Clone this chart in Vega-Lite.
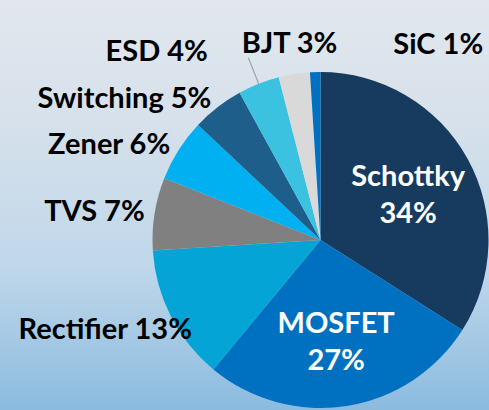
{
  "$schema": "https://vega.github.io/schema/vega-lite/v6.json",
  "width": 489,
  "height": 410,
  "autosize": {"type": "none"},
  "padding": 0,
  "background": "#c9dcea",
  "config": {"view": {"stroke": null}},
  "data": {"values": [
    {"type": "Schottky", "share": 34},
    {"type": "MOSFET", "share": 27},
    {"type": "Rectifier", "share": 13},
    {"type": "TVS", "share": 7},
    {"type": "Zener", "share": 6},
    {"type": "Switching", "share": 5},
    {"type": "ESD", "share": 4},
    {"type": "BJT", "share": 3},
    {"type": "SiC", "share": 1}
  ]},
  "transform": [
    {"stack": "share", "groupby": [], "sort": [{"field": "share", "order": "descending"}], "as": ["v0", "v1"]},
    {"calculate": "(datum.v0 + datum.v1) / 2", "as": "mid"},
    {"calculate": "datum.type + ' ' + datum.share + '%'", "as": "label"},
    {"calculate": "[datum.type, datum.share + '%']", "as": "label2"}
  ],
  "layer": [
    {
      "data": {"values": [{"bg": 1}]},
      "mark": {
        "type": "rect",
        "color": {
          "gradient": "linear", "x1": 0, "y1": 0, "x2": 0, "y2": 1,
          "stops": [
            {"offset": 0, "color": "#e2e7ee"},
            {"offset": 0.3, "color": "#d6e1eb"},
            {"offset": 0.65, "color": "#c0d7ea"},
            {"offset": 1, "color": "#8bbbdf"}
          ]
        }
      }
    },
    {
      "mark": {"type": "arc", "radius": 168, "x": 320.5, "y": 240},
      "encoding": {
        "theta": {"field": "v0", "type": "quantitative", "scale": {"domain": [0, 100]}},
        "theta2": {"field": "v1"},
        "color": {
          "field": "type", "type": "nominal", "legend": null,
          "scale": {
            "domain": ["Schottky", "MOSFET", "Rectifier", "TVS", "Zener", "Switching", "ESD", "BJT", "SiC"],
            "range": ["#173b5e", "#0070c0", "#04a5d6", "#808080", "#00b0f0", "#1e5e8b", "#3bc2e0", "#d9d9d9", "#0070c0"]
          }
        }
      }
    },
    {
      "transform": [{"filter": "datum.type == 'ESD'"}],
      "mark": {"type": "arc", "radius": 196, "radius2": 168, "x": 320.5, "y": 240, "stroke": "#a6a6a6", "strokeWidth": 1.3, "fill": null},
      "encoding": {
        "theta": {"field": "mid", "type": "quantitative", "scale": {"domain": [0, 100]}},
        "theta2": {"field": "mid"}
      }
    },
    {
      "transform": [{"filter": "datum.share >= 20"}],
      "mark": {"type": "text", "x": 320.5, "y": 240, "radius": 100, "dy": -15, "font": "Lato", "fontWeight": "bold", "fontSize": 29, "color": "white", "align": "center", "baseline": "middle", "lineHeight": 37},
      "encoding": {
        "theta": {"field": "mid", "type": "quantitative", "scale": {"domain": [0, 100]}},
        "text": {"field": "label2"}
      }
    },
    {
      "transform": [{"filter": "indexof(['TVS','Zener','Switching'], datum.type) >= 0"}],
      "mark": {"type": "text", "x": 320.5, "y": 240, "radius": 178, "font": "Lato", "fontWeight": "bold", "fontSize": 29, "color": "black", "align": "right", "baseline": "middle"},
      "encoding": {
        "theta": {"field": "mid", "type": "quantitative", "scale": {"domain": [0, 100]}},
        "text": {"field": "label"}
      }
    },
    {
      "transform": [{"filter": "datum.type == 'Rectifier'"}],
      "mark": {"type": "text", "x": 320.5, "y": 240, "radius": 160, "dx": 14, "dy": 17, "font": "Lato", "fontWeight": "bold", "fontSize": 29, "color": "black", "align": "right", "baseline": "middle"},
      "encoding": {
        "theta": {"field": "mid", "type": "quantitative", "scale": {"domain": [0, 100]}},
        "text": {"field": "label"}
      }
    },
    {
      "transform": [{"filter": "datum.type == 'ESD'"}],
      "mark": {"type": "text", "x": 320.5, "y": 240, "radius": 200, "dx": -39, "dy": -2, "font": "Lato", "fontWeight": "bold", "fontSize": 29, "color": "black", "align": "right", "baseline": "middle"},
      "encoding": {
        "theta": {"field": "mid", "type": "quantitative", "scale": {"domain": [0, 100]}},
        "text": {"field": "label"}
      }
    },
    {
      "transform": [{"filter": "datum.type == 'BJT'"}],
      "mark": {"type": "text", "x": 320.5, "y": 240, "radius": 198, "font": "Lato", "fontWeight": "bold", "fontSize": 29, "color": "black", "align": "center", "baseline": "middle"},
      "encoding": {
        "theta": {"field": "mid", "type": "quantitative", "scale": {"domain": [0, 100]}},
        "text": {"field": "label"}
      }
    },
    {
      "transform": [{"filter": "datum.type == 'SiC'"}],
      "mark": {"type": "text", "x": 320.5, "y": 240, "radius": 195, "dx": 79, "font": "Lato", "fontWeight": "bold", "fontSize": 29, "color": "black", "align": "left", "baseline": "middle"},
      "encoding": {
        "theta": {"field": "mid", "type": "quantitative", "scale": {"domain": [0, 100]}},
        "text": {"field": "label"}
      }
    }
  ]
}
